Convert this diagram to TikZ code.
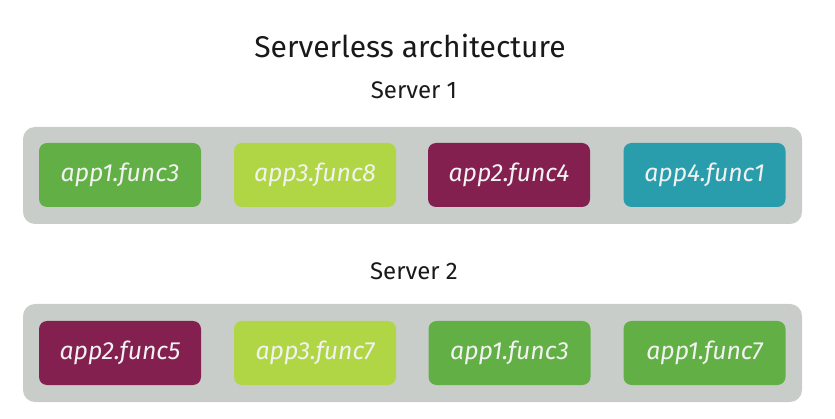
\documentclass[tikz,border=0pt]{standalone}
\usepackage{fontspec}
\setmainfont{Fira Sans}
\definecolor{cgreen}{HTML}{62B045}
\definecolor{clime}{HTML}{B0D646}
\definecolor{cmaroon}{HTML}{83204F}
\definecolor{cteal}{HTML}{2A9DAD}
\definecolor{cgrey}{HTML}{C8CDCA}
\definecolor{ctext}{HTML}{F2F2F2}
\begin{document}
\begin{tikzpicture}[x=1pt,y=-1pt,
  container/.style={fill=cgrey,rounded corners=12pt},
  func/.style={rounded corners=8pt,minimum width=162pt,minimum height=64pt,inner sep=0pt,
    text=ctext,font=\fontsize{24.8}{24.8}\selectfont\itshape},
  heading/.style={anchor=base,text=black!90}]
\useasboundingbox (0,0) rectangle (835,419);
\node[heading,font=\fontsize{30}{30}\selectfont] (title) at (410,58) {Serverless architecture};
\node[heading,font=\fontsize{24}{24}\selectfont] (s1) at (414,99) {Server 1};
\node[heading,font=\fontsize{24}{24}\selectfont] (s2) at (414,280) {Server 2};
\fill[container] (23,127) rectangle (802,224);
\fill[container] (23,304) rectangle (802,402);
\node[func,fill=cgreen] (a1) at (120,175) {app1.func3};
\node[func,fill=clime] (a2) at (315,175) {app3.func8};
\node[func,fill=cmaroon] (a3) at (509,175) {app2.func4};
\node[func,fill=cteal] (a4) at (704.5,175) {app4.func1};
\node[func,fill=cmaroon] (b1) at (120,353) {app2.func5};
\node[func,fill=clime] (b2) at (315,353) {app3.func7};
\node[func,fill=cgreen] (b3) at (509.5,353) {app1.func3};
\node[func,fill=cgreen] (b4) at (704.5,353) {app1.func7};
\end{tikzpicture}
\end{document}
